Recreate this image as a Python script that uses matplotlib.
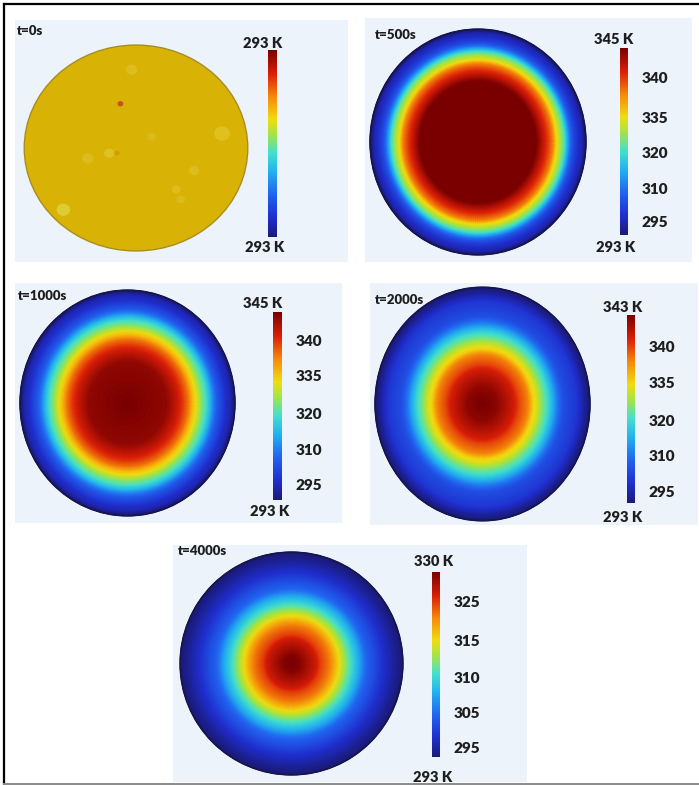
import numpy as np
import matplotlib.pyplot as plt
from matplotlib.colors import FuncNorm, Normalize, LinearSegmentedColormap
from matplotlib.cm import ScalarMappable
from matplotlib.patches import Circle, Rectangle
from matplotlib.lines import Line2D

plt.rcParams['font.family'] = ['Lato', 'DejaVu Sans']

W, H = 699, 785

# ---- data ---------------------------------------------------------------
labels = ['t=0s', 't=500s', 't=1000s', 't=2000s', 't=4000s']
t_low = 293

# legend scale of each snapshot: temperatures and their place on the bar
scale_500 = [293, 295, 310, 320, 335, 340, 345]
place_500 = [0.0, 0.07, 0.25, 0.44, 0.63, 0.84, 1.0]
scale_1000 = [293, 295, 310, 320, 335, 340, 345]
place_1000 = [0.0, 0.08, 0.27, 0.46, 0.66, 0.85, 1.0]
scale_2000 = [293, 295, 310, 320, 335, 340, 343]
place_2000 = [0.0, 0.06, 0.255, 0.44, 0.64, 0.835, 1.0]
scale_4000 = [293, 295, 305, 310, 315, 325, 330]
place_4000 = [0.0, 0.05, 0.24, 0.43, 0.63, 0.84, 1.0]

# radial temperature profiles (K) versus fractional radius
r_500 = [0.0, 0.54, 0.62, 0.70, 0.74, 0.79, 0.83, 0.89, 0.95, 1.0]
T_500 = [345, 345, 341.3, 337.9, 334.2, 324.7, 315.3, 303, 296, 293]
r_1000 = [0.0, 0.36, 0.47, 0.57, 0.63, 0.69, 0.77, 0.84, 0.93, 1.0]
T_1000 = [345, 344, 341.3, 337.9, 334.2, 324.7, 315.3, 305, 296, 293]
r_2000 = [0.0, 0.14, 0.30, 0.43, 0.50, 0.57, 0.66, 0.76, 0.88, 0.95, 1.0]
T_2000 = [343, 342.5, 340.8, 337.8, 333.5, 324.5, 315, 304, 300, 294.5, 293]
r_4000 = [0.0, 0.07, 0.22, 0.35, 0.43, 0.50, 0.60, 0.69, 0.84, 0.93, 1.0]
T_4000 = [330, 329.5, 326.5, 321, 315, 312, 308, 304, 297.5, 294.5, 293]

# initial state: uniform field with a few small inhomogeneities
spot_x = [-0.14, -0.04, -0.24, -0.17, -0.43, 0.77, 0.52, 0.36, 0.40, -0.65, 0.14]
spot_y = [0.43, 0.76, -0.05, -0.05, -0.10, 0.14, -0.22, -0.40, -0.50, -0.60, 0.11]
spot_r = [0.026, 0.05, 0.045, 0.022, 0.05, 0.07, 0.045, 0.04, 0.04, 0.06, 0.04]
spot_c = ['#c8401a', '#e6d24a', '#e6d44a', '#d08a10', '#e6d24a', '#e8d64a',
          '#e6d24a', '#e6d24a', '#e4d04a', '#e8e05a', '#e4cc44']
spot_a = [0.85, 0.35, 0.45, 0.6, 0.35, 0.4, 0.35, 0.35, 0.3, 0.55, 0.3]

# ---- layout (pixels, origin top-left) -----------------------------------
panel_bg = [(15, 20, 348, 262), (365, 18, 692, 262), (15, 283, 342, 523),
            (370, 283, 698, 525), (173, 545, 527, 782)]
disk_box = [(22, 43, 250, 253), (368, 27, 588, 257), (18, 288, 237, 518),
            (373, 285, 592, 523), (178, 550, 405, 777)]
bar_box = [(268, 50, 277, 237), (620, 48, 628, 235), (273, 312, 282, 500),
           (627, 315, 635, 503), (432, 572, 440, 757)]
label_xy = [(17, 31), (375, 35), (18, 296), (375, 300), (178, 551)]
top_xy = [(263, 43), (614, 40), (263, 303), (623, 307), (434, 562)]
bot_xy = [(265, 248), (616, 248), (270, 511), (623, 517), (433, 778)]

TXT = '#1e1e1e'

rainbow = LinearSegmentedColormap.from_list('rainbow_k', [
    (0.0, '#1a1a78'), (0.1, '#1f2dcc'), (0.22, '#2060ee'), (0.35, '#22b2f0'),
    (0.45, '#44e0cc'), (0.55, '#a6e444'), (0.63, '#f0dc10'), (0.75, '#f68a0a'),
    (0.87, '#dc2008'), (1.0, '#7a0000')])


def px_box(x0, y0, x1, y1):
    return [x0 / W, 1 - y1 / H, (x1 - x0) / W, (y1 - y0) / H]


def fig_xy(x, y):
    return x / W, 1 - y / H


def legend_norm(temps, places):
    fwd = lambda v: np.interp(v, temps, places)
    inv = lambda f: np.interp(f, places, temps)
    return FuncNorm((fwd, inv), vmin=temps[0], vmax=temps[-1])


def disk_axes(fig, box):
    ax = fig.add_axes(px_box(*box))
    ax.set_xlim(-1.02, 1.02)
    ax.set_ylim(-1.02, 1.02)
    ax.axis('off')
    return ax


def draw_field(ax, r_prof, T_prof, norm):
    rr = np.linspace(0, 1, 220)
    th = np.linspace(0, 2 * np.pi, 241)
    R, TH = np.meshgrid(rr, th)
    C = np.interp(R, r_prof, T_prof)
    mesh = ax.pcolormesh(R * np.cos(TH), R * np.sin(TH), C, cmap=rainbow,
                         norm=norm, shading='gouraud')
    ax.add_patch(Circle((0, 0), 1, fill=False, ec='#16164c', lw=1.3))
    return mesh


def draw_bar(fig, box, mappable, ticks):
    cax = fig.add_axes(px_box(*box))
    cb = fig.colorbar(mappable, cax=cax)
    cb.outline.set_visible(False)
    cb.set_ticks(ticks, labels=[str(t) for t in ticks])
    cax.tick_params(length=0, pad=10, labelsize=11, labelcolor=TXT)
    plt.setp(cax.get_yticklabels(), fontweight='heavy')
    return cb


fig = plt.figure(figsize=(W / 100, H / 100), dpi=100)

for x0, y0, x1, y1 in panel_bg:
    fx, fy = fig_xy(x0, y1)
    fig.add_artist(Rectangle((fx, fy), (x1 - x0) / W, (y1 - y0) / H,
                             transform=fig.transFigure, fc='#ecf3fb',
                             ec='none', zorder=-1))

# t = 0 s: uniform initial temperature
ax0 = disk_axes(fig, disk_box[0])
ax0.add_patch(Circle((0, 0), 1, fc='#d8b204', ec='#a88e20', lw=1.0))
for sx, sy, sr, sc, sa in zip(spot_x, spot_y, spot_r, spot_c, spot_a):
    ax0.add_patch(Circle((sx, sy), sr, fc=sc, ec='none', alpha=sa))
sm = ScalarMappable(norm=Normalize(0, 1), cmap=rainbow)
cb0 = fig.colorbar(sm, cax=fig.add_axes(px_box(*bar_box[0])), ticks=[])
cb0.outline.set_visible(False)

fields = [(r_500, T_500, scale_500, place_500),
          (r_1000, T_1000, scale_1000, place_1000),
          (r_2000, T_2000, scale_2000, place_2000),
          (r_4000, T_4000, scale_4000, place_4000)]

t_top = [t_low]
for i, (r_prof, T_prof, scale, place) in enumerate(fields, start=1):
    ax = disk_axes(fig, disk_box[i])
    mesh = draw_field(ax, r_prof, T_prof, legend_norm(scale, place))
    draw_bar(fig, bar_box[i], mesh, scale[1:-1])
    t_top.append(scale[-1])

for i, name in enumerate(labels):
    fig.text(*fig_xy(*label_xy[i]), name, ha='left', va='center',
             fontsize=9.5, fontweight='heavy', color=TXT)
    fig.text(*fig_xy(*top_xy[i]), f'{t_top[i]} K', ha='center', va='center',
             fontsize=10.5, fontweight='heavy', color=TXT)
    fig.text(*fig_xy(*bot_xy[i]), f'{t_low} K', ha='center', va='center',
             fontsize=10.5, fontweight='heavy', color=TXT)

# outer frame
fig.add_artist(Line2D([4 / W, 4 / W], [1 - 4 / H, 1 - 784 / H],
                      transform=fig.transFigure, color='black', lw=1.6))
fig.add_artist(Line2D([4 / W, 1.0], [1 - 4 / H, 1 - 4 / H],
                      transform=fig.transFigure, color='black', lw=1.6))
fig.add_artist(Line2D([4 / W, 1.0], [1 - 784 / H, 1 - 784 / H],
                      transform=fig.transFigure, color='#8a8a8a', lw=1.4))

fig.savefig('out.png', dpi=100)
